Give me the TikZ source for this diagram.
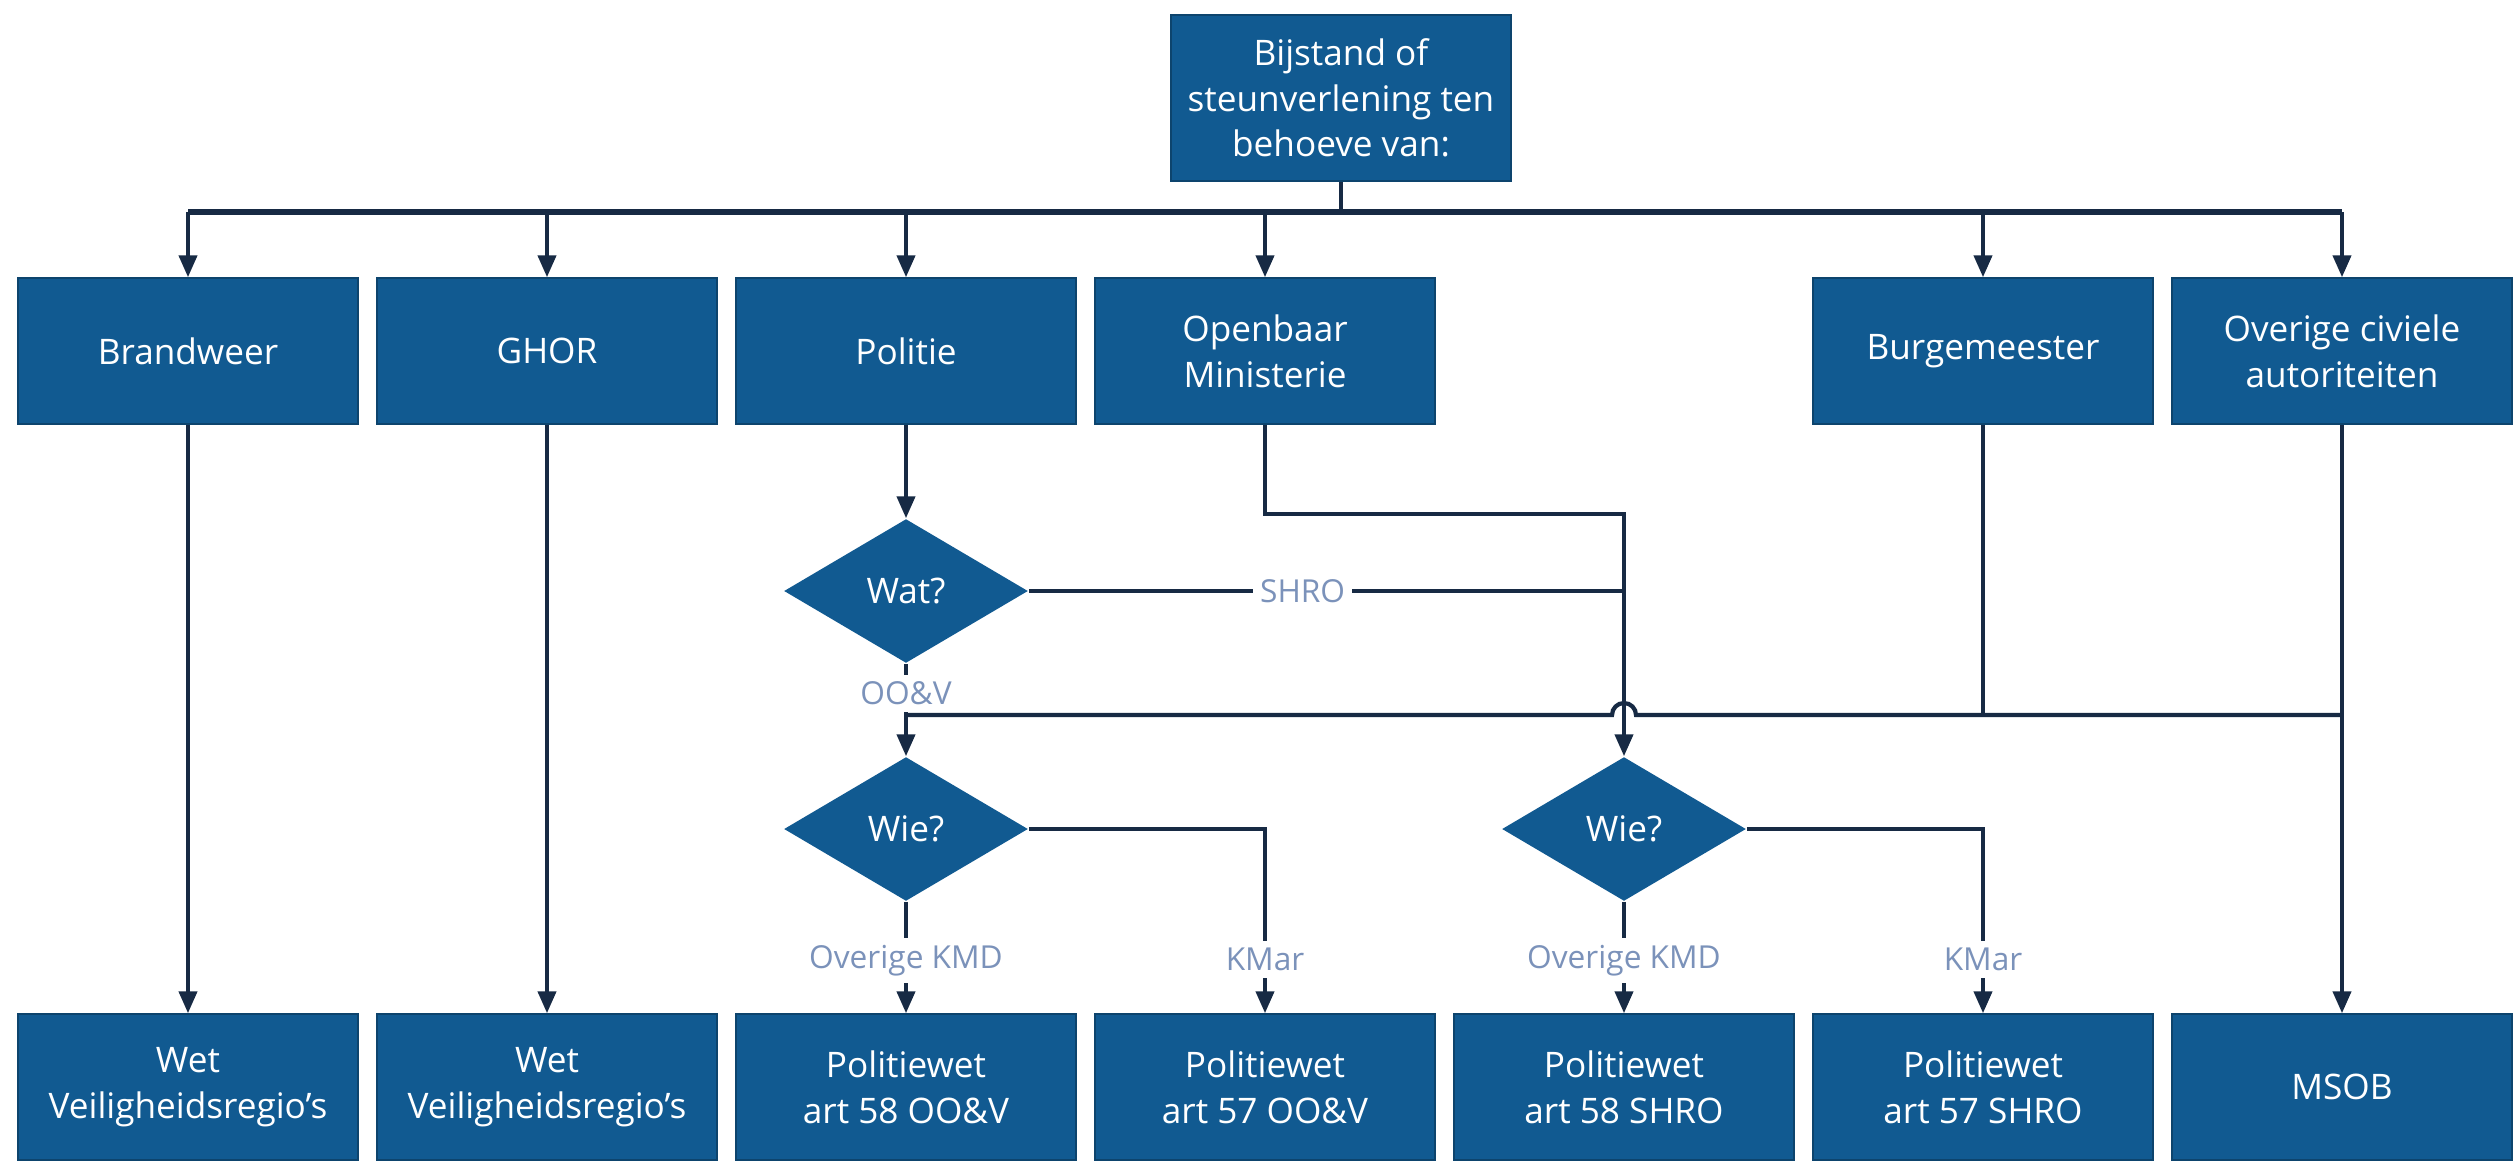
\documentclass[tikz,border=0pt]{standalone}
\usepackage{fontspec}
\setmainfont{Open Sans}
\usetikzlibrary{arrows.meta,shapes.geometric,calc}
\definecolor{boxblue}{HTML}{115A91}
\definecolor{linec}{HTML}{172A44}
\definecolor{labc}{HTML}{7B92BA}
\begin{document}
\begin{tikzpicture}[x=0.01cm,y=-0.01cm,
  box/.style={rectangle, fill=boxblue, draw=boxblue!75!black, line width=0.4pt, text=white,
    minimum width=3.4cm, minimum height=1.46cm, align=center, inner sep=0pt,
    font=\fontsize{10}{13}\selectfont},
  dia/.style={diamond, fill=boxblue, text=white, minimum width=2.44cm, minimum height=1.44cm,
    inner sep=0pt, font=\fontsize{10}{13}\selectfont},
  conn/.style={draw=linec, line width=1.2pt},
  arr/.style={conn, -{Triangle[length=0.22cm,width=0.18cm]}},
  lab/.style={fill=white, text=labc, inner sep=2pt, font=\fontsize{9}{10}\selectfont}]
\fill[white] (0,0) rectangle (2520,1160);
\useasboundingbox (0,0) rectangle (2520,1160);

% top
\node[box, minimum height=1.66cm] (top) at (1341,98) {Bijstand of\\steunverlening ten\\behoeve van:};

% first row
\node[box] (brand) at (188,351) {Brandweer};
\node[box] (ghor)  at (547,351) {GHOR};
\node[box] (pol)   at (906,351) {Politie};
\node[box] (om)    at (1265,351) {Openbaar\\Ministerie};
\node[box] (burg)  at (1983,351) {Burgemeester};
\node[box] (civ)   at (2342,351) {Overige civiele\\autoriteiten};

% diamonds
\node[dia] (wat)  at (906,591) {Wat?};
\node[dia] (wie1) at (906,829) {Wie?};
\node[dia] (wie2) at (1624,829) {Wie?};

% bottom row
\node[box] (wet1) at (188,1087) {Wet\\Veiligheidsregio’s};
\node[box] (wet2) at (547,1087) {Wet\\Veiligheidsregio’s};
\node[box] (p58o) at (906,1087) {Politiewet\\art 58 OO\&V};
\node[box] (p57o) at (1265,1087) {Politiewet\\art 57 OO\&V};
\node[box] (p58s) at (1624,1087) {Politiewet\\art 58 SHRO};
\node[box] (p57s) at (1983,1087) {Politiewet\\art 57 SHRO};
\node[box] (msob) at (2342,1087) {MSOB};

% bus
\coordinate (bus)  at (1341,212);
\coordinate (busL) at (188,212);
\coordinate (busR) at (2342,212);
\draw[conn] (top.south) -- (bus);
\draw[conn, line width=1.6pt] (busL) -- (busR);
\foreach \n in {brand,ghor,pol,om,burg,civ}
  \draw[arr] (\n.north |- bus) -- (\n.north);

% straight columns
\draw[arr] (brand.south) -- (wet1.north);
\draw[arr] (ghor.south) -- (wet2.north);
\draw[arr] (pol.south) -- (wat.north);
\draw[arr] (civ.south) -- (msob.north);

% OM to Wie?2
\coordinate (omturn) at (1624,514);
\draw[arr] (om.south) |- (omturn) -- (wie2.north);

% SHRO
\draw[conn] (wat.east) -- node[lab, pos=0.46] {SHRO} (wat.east -| wie2.north);

% OO&V path
\coordinate (j1) at (906,715);
\draw[arr] (wat.south) -- node[lab, pos=0.32] {OO\&V} (wie1.north);
\draw[conn] (burg.south) -- (burg.south |- j1);
\draw[conn] (j1) -- ($(wie2.north |- j1)+(-12,0)$)
  arc[start angle=180, end angle=0, radius=0.12cm] -- (civ.south |- j1);

% Wie?1
\draw[arr] (wie1.south) -- node[lab, pos=0.53] {Overige KMD} (p58o.north);
\draw[arr] (wie1.east) -| node[lab, pos=0.855] {KMar} (p57o.north);

% Wie?2
\draw[arr] (wie2.south) -- node[lab, pos=0.53] {Overige KMD} (p58s.north);
\draw[arr] (wie2.east) -| node[lab, pos=0.855] {KMar} (p57s.north);
\end{tikzpicture}
\end{document}
